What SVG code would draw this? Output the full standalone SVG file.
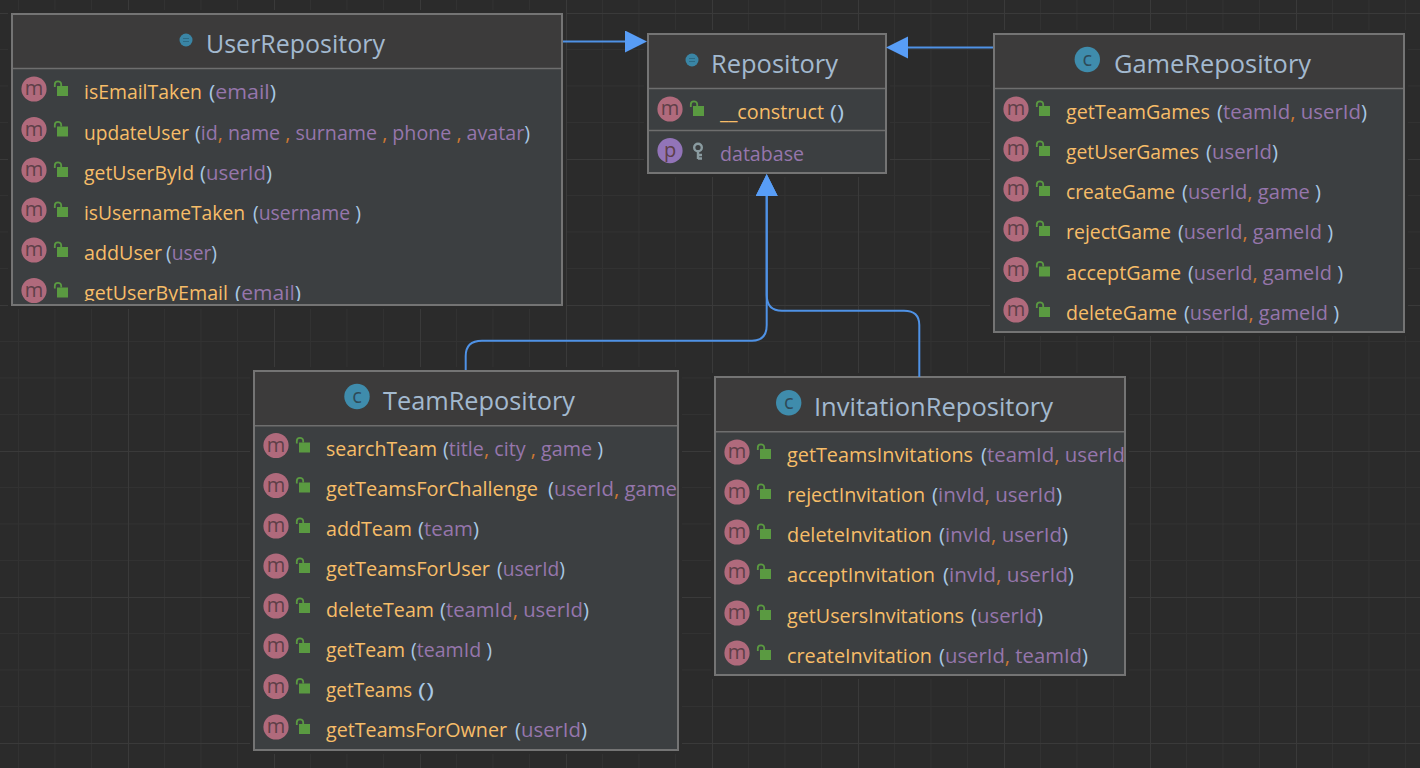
<svg xmlns="http://www.w3.org/2000/svg" width="1420" height="768" viewBox="0 0 1420 768">
<style>
text{font-family:"Open Sans","Noto Sans","Liberation Sans",sans-serif}
.box{fill:#3c3f41;stroke:#747474;stroke-width:2}
.halo{fill:none;stroke:#2b2b2b;stroke-width:8}
.head{fill:#3c3b3b}
.div{stroke:#6e6e6e;stroke-width:1.5}
.title{font-size:26px;fill:#a3b9cf}
.n{font-size:20.5px;fill:#f7bd68}
.a{font-size:20.5px;fill:#9676ac}
.p{fill:#a9c8e4}
.c{fill:#cc7832}
.ml{font-size:20px;fill:#5e3f48;text-anchor:middle}
.cl{font-size:20px;fill:#2e4a58;text-anchor:middle}
.conn{fill:none;stroke:#4f92e6;stroke-width:2}
</style>
<defs>
<pattern id="grid" patternUnits="userSpaceOnUse" x="-18" y="13" width="146" height="146">
<path d="M36.5 0V146M73 0V146M109.5 0V146M0 36.5H146M0 73H146M0 109.5H146" fill="none" stroke="#323232" stroke-width="1"/>
<path d="M0.5 0V146M0 0.5H146" fill="none" stroke="#3a3a3a" stroke-width="1"/>
</pattern>
<marker id="arrow" markerUnits="userSpaceOnUse" markerWidth="23" markerHeight="23" refX="0" refY="11" orient="auto">
<path d="M0 0L22 11L0 22Z" fill="#589df6"/>
</marker>
<g id="mi"><circle r="12.6" fill="#b06a7c"/></g>
<g id="lock"><rect x="23" y="-3" width="11" height="10" fill="#5a9a41"/><path d="M20.8 -2V-4.5a3.2 3.2 0 0 1 6.4 0V-3" fill="none" stroke="#5a9a41" stroke-width="1.8"/></g>
<g id="ci"><circle r="12.7" fill="#3f8cac"/></g>
<g id="dot"><circle r="6.5" fill="#3a85a5"/><path d="M-3 -1.5H3M-3 1.5H3" stroke="#2d6a84" stroke-width="1"/></g>
<clipPath id="cu"><rect x="13" y="15" width="548" height="289"/></clipPath>
<clipPath id="cu2"><rect x="13" y="15" width="548" height="286"/></clipPath>
<clipPath id="ct"><rect x="255" y="372" width="422" height="377"/></clipPath>
<clipPath id="ci2"><rect x="716" y="378" width="408" height="296"/></clipPath>
</defs>
<rect width="1420" height="768" fill="#2b2b2b"/>
<rect width="1420" height="768" fill="url(#grid)"/>

<g id="UserRepository">
<rect class="halo" x="12" y="14" width="550" height="291"/>
<rect class="box" x="12" y="14" width="550" height="291"/>
<rect class="head" x="13" y="15" width="548" height="53"/>
<path class="div" d="M13 68.5H561"/>
<use href="#dot" x="186" y="40"/>
<text class="title" x="206" y="53" textLength="179" lengthAdjust="spacingAndGlyphs">UserRepository</text>
<g clip-path="url(#cu)">
<use href="#mi" x="34" y="89"/><text class="ml" x="34" y="95">m</text><use href="#lock" x="34" y="89"/>
<text class="n" x="84" y="99" textLength="118" lengthAdjust="spacingAndGlyphs">isEmailTaken</text>
<text class="a" x="209" y="99" textLength="67" lengthAdjust="spacingAndGlyphs"><tspan class="p">(</tspan>email<tspan class="p">)</tspan></text>
<use href="#mi" x="34" y="129.5"/><text class="ml" x="34" y="135.5">m</text><use href="#lock" x="34" y="129.5"/>
<text class="n" x="84" y="139.5" textLength="105" lengthAdjust="spacingAndGlyphs">updateUser</text>
<text class="a" x="195" y="139.5" textLength="335" lengthAdjust="spacingAndGlyphs"><tspan class="p">(</tspan>id<tspan class="c">,</tspan> name <tspan class="c">,</tspan> surname <tspan class="c">,</tspan> phone <tspan class="c">,</tspan> avatar<tspan class="p">)</tspan></text>
<use href="#mi" x="34" y="170"/><text class="ml" x="34" y="176">m</text><use href="#lock" x="34" y="170"/>
<text class="n" x="84" y="180" textLength="110" lengthAdjust="spacingAndGlyphs">getUserById</text>
<text class="a" x="200" y="180" textLength="72" lengthAdjust="spacingAndGlyphs"><tspan class="p">(</tspan>userId<tspan class="p">)</tspan></text>
<use href="#mi" x="34" y="210"/><text class="ml" x="34" y="216">m</text><use href="#lock" x="34" y="210"/>
<text class="n" x="84" y="220" textLength="161" lengthAdjust="spacingAndGlyphs">isUsernameTaken</text>
<text class="a" x="253" y="220" textLength="108" lengthAdjust="spacingAndGlyphs"><tspan class="p">(</tspan>username <tspan class="p">)</tspan></text>
<use href="#mi" x="34" y="250"/><text class="ml" x="34" y="256">m</text><use href="#lock" x="34" y="250"/>
<text class="n" x="84" y="260" textLength="78" lengthAdjust="spacingAndGlyphs">addUser</text>
<text class="a" x="166" y="260" textLength="51" lengthAdjust="spacingAndGlyphs"><tspan class="p">(</tspan>user<tspan class="p">)</tspan></text>
<use href="#mi" x="34" y="290.5"/><text class="ml" x="34" y="296.5">m</text><use href="#lock" x="34" y="290.5"/>
</g>
<g clip-path="url(#cu2)">
<text class="n" x="84" y="300" textLength="144" lengthAdjust="spacingAndGlyphs">getUserByEmail</text>
<text class="a" x="235" y="300" textLength="66" lengthAdjust="spacingAndGlyphs"><tspan class="p">(</tspan>email<tspan class="p">)</tspan></text>
</g>
</g>

<g id="Repository">
<rect class="halo" x="648" y="34" width="238" height="139"/>
<rect class="box" x="648" y="34" width="238" height="139"/>
<rect class="head" x="649" y="35" width="236" height="53"/>
<path class="div" d="M649 88.5H885M649 130.5H885"/>
<use href="#dot" x="692" y="60"/>
<text class="title" x="711" y="73" textLength="127" lengthAdjust="spacingAndGlyphs">Repository</text>
<use href="#mi" x="670" y="109"/><text class="ml" x="670" y="115">m</text><use href="#lock" x="670" y="109"/>
<text class="n" x="720" y="119" textLength="104" lengthAdjust="spacingAndGlyphs">__construct</text>
<text class="a" x="830" y="119" textLength="14" lengthAdjust="spacingAndGlyphs"><tspan class="p">()</tspan></text>
<circle cx="670" cy="150.7" r="12.6" fill="#9274b8"/><text class="ml" x="670" y="156.7">p</text>
<g fill="none" stroke="#8a9ba0" stroke-width="2.4"><circle cx="698" cy="147.5" r="3.8"/><path d="M698 151.5V159M698 155H702M698 158.5H702"/></g>
<text class="a" x="720" y="161" textLength="84" lengthAdjust="spacingAndGlyphs">database</text>
</g>

<g id="GameRepository">
<rect class="halo" x="994" y="34" width="410" height="298"/>
<rect class="box" x="994" y="34" width="410" height="298"/>
<rect class="head" x="995" y="35" width="408" height="53"/>
<path class="div" d="M995 88.5H1403"/>
<use href="#ci" x="1087.3" y="59.5"/><text class="cl" x="1087.3" y="66">c</text>
<text class="title" x="1114" y="73" textLength="197" lengthAdjust="spacingAndGlyphs">GameRepository</text>
<use href="#mi" x="1016" y="109"/><text class="ml" x="1016" y="115">m</text><use href="#lock" x="1016" y="109"/>
<text class="n" x="1066" y="119" textLength="144" lengthAdjust="spacingAndGlyphs">getTeamGames</text>
<text class="a" x="1217" y="119" textLength="150" lengthAdjust="spacingAndGlyphs"><tspan class="p">(</tspan>teamId<tspan class="c">,</tspan> userId<tspan class="p">)</tspan></text>
<use href="#mi" x="1016" y="149"/><text class="ml" x="1016" y="155">m</text><use href="#lock" x="1016" y="149"/>
<text class="n" x="1066" y="159" textLength="133" lengthAdjust="spacingAndGlyphs">getUserGames</text>
<text class="a" x="1206" y="159" textLength="72" lengthAdjust="spacingAndGlyphs"><tspan class="p">(</tspan>userId<tspan class="p">)</tspan></text>
<use href="#mi" x="1016" y="189"/><text class="ml" x="1016" y="195">m</text><use href="#lock" x="1016" y="189"/>
<text class="n" x="1066" y="199" textLength="109" lengthAdjust="spacingAndGlyphs">createGame</text>
<text class="a" x="1182" y="199" textLength="139" lengthAdjust="spacingAndGlyphs"><tspan class="p">(</tspan>userId<tspan class="c">,</tspan> game <tspan class="p">)</tspan></text>
<use href="#mi" x="1016" y="229"/><text class="ml" x="1016" y="235">m</text><use href="#lock" x="1016" y="229"/>
<text class="n" x="1066" y="239" textLength="105" lengthAdjust="spacingAndGlyphs">rejectGame</text>
<text class="a" x="1178" y="239" textLength="155" lengthAdjust="spacingAndGlyphs"><tspan class="p">(</tspan>userId<tspan class="c">,</tspan> gameId <tspan class="p">)</tspan></text>
<use href="#mi" x="1016" y="269.5"/><text class="ml" x="1016" y="275.5">m</text><use href="#lock" x="1016" y="269.5"/>
<text class="n" x="1066" y="279.5" textLength="115" lengthAdjust="spacingAndGlyphs">acceptGame</text>
<text class="a" x="1188" y="279.5" textLength="155" lengthAdjust="spacingAndGlyphs"><tspan class="p">(</tspan>userId<tspan class="c">,</tspan> gameId <tspan class="p">)</tspan></text>
<use href="#mi" x="1016" y="310"/><text class="ml" x="1016" y="316">m</text><use href="#lock" x="1016" y="310"/>
<text class="n" x="1066" y="320" textLength="111" lengthAdjust="spacingAndGlyphs">deleteGame</text>
<text class="a" x="1184" y="320" textLength="155" lengthAdjust="spacingAndGlyphs"><tspan class="p">(</tspan>userId<tspan class="c">,</tspan> gameId <tspan class="p">)</tspan></text>
</g>

<g id="TeamRepository">
<rect class="halo" x="254" y="371" width="424" height="379"/>
<rect class="box" x="254" y="371" width="424" height="379"/>
<rect class="head" x="255" y="372" width="422" height="53"/>
<path class="div" d="M255 425.7H677"/>
<use href="#ci" x="357" y="396.5"/><text class="cl" x="357" y="403">c</text>
<text class="title" x="383" y="410" textLength="192" lengthAdjust="spacingAndGlyphs">TeamRepository</text>
<g clip-path="url(#ct)">
<use href="#mi" x="276" y="445.5"/><text class="ml" x="276" y="451.5">m</text><use href="#lock" x="276" y="445.5"/>
<text class="n" x="326" y="456" textLength="111" lengthAdjust="spacingAndGlyphs">searchTeam</text>
<text class="a" x="443" y="456" textLength="160" lengthAdjust="spacingAndGlyphs"><tspan class="p">(</tspan>title<tspan class="c">,</tspan> city <tspan class="c">,</tspan> game <tspan class="p">)</tspan></text>
<use href="#mi" x="276" y="485.5"/><text class="ml" x="276" y="491.5">m</text><use href="#lock" x="276" y="485.5"/>
<text class="n" x="326" y="496" textLength="212" lengthAdjust="spacingAndGlyphs">getTeamsForChallenge</text>
<text class="a" x="548" y="496" textLength="129" lengthAdjust="spacingAndGlyphs"><tspan class="p">(</tspan>userId<tspan class="c">,</tspan> game</text>
<use href="#mi" x="276" y="526"/><text class="ml" x="276" y="532">m</text><use href="#lock" x="276" y="526"/>
<text class="n" x="326" y="536" textLength="86" lengthAdjust="spacingAndGlyphs">addTeam</text>
<text class="a" x="418" y="536" textLength="61" lengthAdjust="spacingAndGlyphs"><tspan class="p">(</tspan>team<tspan class="p">)</tspan></text>
<use href="#mi" x="276" y="566"/><text class="ml" x="276" y="572">m</text><use href="#lock" x="276" y="566"/>
<text class="n" x="326" y="576" textLength="164" lengthAdjust="spacingAndGlyphs">getTeamsForUser</text>
<text class="a" x="497" y="576" textLength="68" lengthAdjust="spacingAndGlyphs"><tspan class="p">(</tspan>userId<tspan class="p">)</tspan></text>
<use href="#mi" x="276" y="606"/><text class="ml" x="276" y="612">m</text><use href="#lock" x="276" y="606"/>
<text class="n" x="326" y="617" textLength="108" lengthAdjust="spacingAndGlyphs">deleteTeam</text>
<text class="a" x="440" y="617" textLength="149" lengthAdjust="spacingAndGlyphs"><tspan class="p">(</tspan>teamId<tspan class="c">,</tspan> userId<tspan class="p">)</tspan></text>
<use href="#mi" x="276" y="646"/><text class="ml" x="276" y="652">m</text><use href="#lock" x="276" y="646"/>
<text class="n" x="326" y="657" textLength="79" lengthAdjust="spacingAndGlyphs">getTeam</text>
<text class="a" x="411" y="657" textLength="81" lengthAdjust="spacingAndGlyphs"><tspan class="p">(</tspan>teamId <tspan class="p">)</tspan></text>
<use href="#mi" x="276" y="686.5"/><text class="ml" x="276" y="692.5">m</text><use href="#lock" x="276" y="686.5"/>
<text class="n" x="326" y="697" textLength="86" lengthAdjust="spacingAndGlyphs">getTeams</text>
<text class="a" x="418" y="697" textLength="16" lengthAdjust="spacingAndGlyphs"><tspan class="p">()</tspan></text>
<use href="#mi" x="276" y="727"/><text class="ml" x="276" y="733">m</text><use href="#lock" x="276" y="727"/>
<text class="n" x="326" y="737" textLength="181" lengthAdjust="spacingAndGlyphs">getTeamsForOwner</text>
<text class="a" x="515" y="737" textLength="72" lengthAdjust="spacingAndGlyphs"><tspan class="p">(</tspan>userId<tspan class="p">)</tspan></text>
</g>
</g>

<g id="InvitationRepository">
<rect class="halo" x="715" y="377" width="410" height="298"/>
<rect class="box" x="715" y="377" width="410" height="298"/>
<rect class="head" x="716" y="378" width="408" height="53"/>
<path class="div" d="M716 431.7H1124"/>
<use href="#ci" x="788.7" y="402.7"/><text class="cl" x="788.7" y="409">c</text>
<text class="title" x="814" y="416" textLength="239" lengthAdjust="spacingAndGlyphs">InvitationRepository</text>
<g clip-path="url(#ci2)">
<use href="#mi" x="737" y="452"/><text class="ml" x="737" y="458">m</text><use href="#lock" x="737" y="452"/>
<text class="n" x="787" y="462" textLength="186" lengthAdjust="spacingAndGlyphs">getTeamsInvitations</text>
<text class="a" x="981" y="462" textLength="144" lengthAdjust="spacingAndGlyphs"><tspan class="p">(</tspan>teamId<tspan class="c">,</tspan> userId</text>
<use href="#mi" x="737" y="492"/><text class="ml" x="737" y="498">m</text><use href="#lock" x="737" y="492"/>
<text class="n" x="787" y="502" textLength="138" lengthAdjust="spacingAndGlyphs">rejectInvitation</text>
<text class="a" x="932" y="502" textLength="130" lengthAdjust="spacingAndGlyphs"><tspan class="p">(</tspan>invId<tspan class="c">,</tspan> userId<tspan class="p">)</tspan></text>
<use href="#mi" x="737" y="532"/><text class="ml" x="737" y="538">m</text><use href="#lock" x="737" y="532"/>
<text class="n" x="787" y="542" textLength="145" lengthAdjust="spacingAndGlyphs">deleteInvitation</text>
<text class="a" x="939" y="542" textLength="129" lengthAdjust="spacingAndGlyphs"><tspan class="p">(</tspan>invId<tspan class="c">,</tspan> userId<tspan class="p">)</tspan></text>
<use href="#mi" x="737" y="572"/><text class="ml" x="737" y="578">m</text><use href="#lock" x="737" y="572"/>
<text class="n" x="787" y="582" textLength="148" lengthAdjust="spacingAndGlyphs">acceptInvitation</text>
<text class="a" x="943" y="582" textLength="131" lengthAdjust="spacingAndGlyphs"><tspan class="p">(</tspan>invId<tspan class="c">,</tspan> userId<tspan class="p">)</tspan></text>
<use href="#mi" x="737" y="613"/><text class="ml" x="737" y="619">m</text><use href="#lock" x="737" y="613"/>
<text class="n" x="787" y="623" textLength="177" lengthAdjust="spacingAndGlyphs">getUsersInvitations</text>
<text class="a" x="971" y="623" textLength="72" lengthAdjust="spacingAndGlyphs"><tspan class="p">(</tspan>userId<tspan class="p">)</tspan></text>
<use href="#mi" x="737" y="653"/><text class="ml" x="737" y="659">m</text><use href="#lock" x="737" y="653"/>
<text class="n" x="787" y="663" textLength="145" lengthAdjust="spacingAndGlyphs">createInvitation</text>
<text class="a" x="939" y="663" textLength="149" lengthAdjust="spacingAndGlyphs"><tspan class="p">(</tspan>userId<tspan class="c">,</tspan> teamId<tspan class="p">)</tspan></text>
</g>
</g>

<g id="connectors">
<path class="conn" d="M563 41.5H625" marker-end="url(#arrow)"/>
<path class="conn" d="M993 47.5H908" marker-end="url(#arrow)"/>
<path class="conn" d="M465.7 370V356Q465.7 340.7 482 340.7H752Q766.7 340.7 766.7 325V196" marker-end="url(#arrow)"/>
<path class="conn" d="M919.3 377V325Q919.3 310.7 904 310.7H782Q766.7 310.7 766.7 295V196" marker-end="url(#arrow)"/>
</g>
</svg>
